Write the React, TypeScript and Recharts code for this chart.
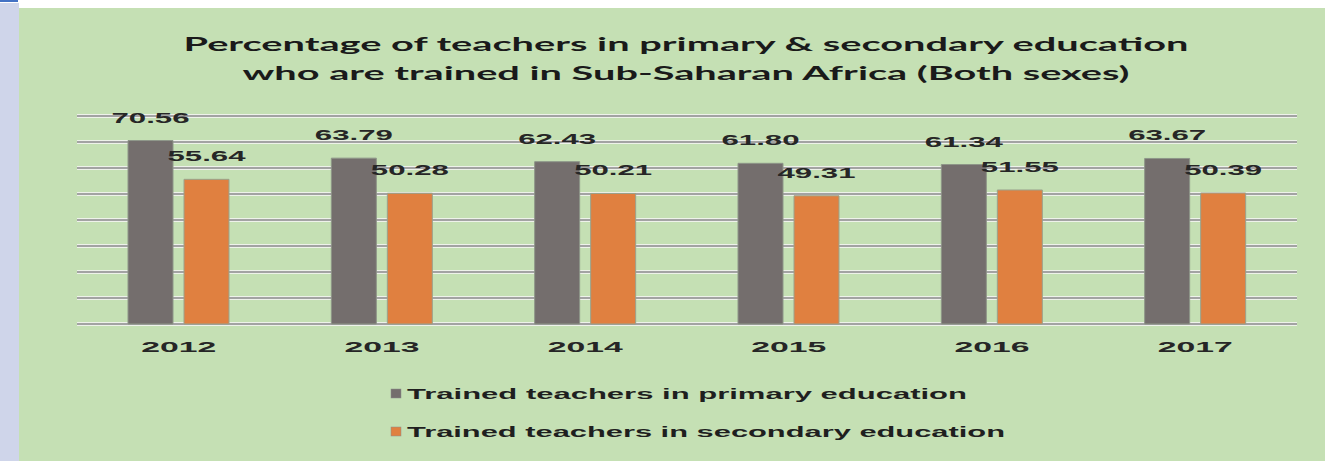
import React from "react";
import { Bar, BarChart, CartesianGrid, LabelList, Legend, XAxis, YAxis } from "recharts";

const years = ["2012", "2013", "2014", "2015", "2016", "2017"];
const primaryValues = [70.56, 63.79, 62.43, 61.8, 61.34, 63.67];
const secondaryValues = [55.64, 50.28, 50.21, 49.31, 51.55, 50.39];
const yTicks = [0, 10, 20, 30, 40, 50, 60, 70, 80];

const primaryName = "Trained teachers in primary education";
const secondaryName = "Trained teachers in secondary education";
const titleLines = [
  "Percentage of teachers in primary & secondary education",
  "who are trained in Sub-Saharan Africa (Both sexes)",
];

const data = years.map((year, i) => ({
  year,
  primary: primaryValues[i],
  secondary: secondaryValues[i],
}));

const FONT = "'Liberation Sans', Arial, sans-serif";

// stretched text, the source image is widened horizontally
function ValueLabel(props: any) {
  const { x, y, width, value } = props;
  return (
    <text
      x={x + width / 2}
      y={y - 18}
      textAnchor="middle"
      fontFamily={FONT}
      fontWeight="bold"
      fontSize={14}
      fill="#262626"
      textLength={78}
      lengthAdjust="spacingAndGlyphs"
    >
      {Number(value).toFixed(2)}
    </text>
  );
}

function YearTick(props: any) {
  const { x, y, payload } = props;
  return (
    <text
      x={x}
      y={y + 20}
      textAnchor="middle"
      fontFamily={FONT}
      fontWeight="bold"
      fontSize={15}
      fill="#262626"
      textLength={75}
      lengthAdjust="spacingAndGlyphs"
    >
      {payload.value}
    </text>
  );
}

const legendWidths = [560, 598];

function renderLegend(props: any) {
  const items = props.payload || [];
  return (
    <svg width={700} height={80}>
      {items.map((item: any, i: number) => (
        <g key={item.value}>
          <rect x={12} y={11 + i * 38} width={10} height={9} fill={item.color} stroke="#8c8c8c" strokeWidth={0.5} />
          <text
            x={28}
            y={21 + i * 38}
            fontFamily={FONT}
            fontWeight="bold"
            fontSize={15}
            fill="#1f1f1f"
            textLength={legendWidths[i]}
            lengthAdjust="spacingAndGlyphs"
          >
            {item.value}
          </text>
        </g>
      ))}
    </svg>
  );
}

export default function App() {
  return (
    <div style={{ position: "absolute", left: 0, top: 0, width: 1325, height: 461, background: "#ffffff", overflow: "hidden" }}>
      <div style={{ position: "absolute", left: 0, top: 0, width: 18, height: 2, background: "#4472c4" }} />
      <div style={{ position: "absolute", left: 0, top: 3, width: 19, height: 458, background: "#cfd5ea" }} />
      <div style={{ position: "absolute", left: 19, top: 8, width: 1306, height: 453, background: "#c5e0b4" }}>
        {/* Title */}
        <svg width={1306} height={90} style={{ position: "absolute", left: 0, top: 0 }}>
          <text x={667} y={43} textAnchor="middle" fontFamily="Lato, 'Open Sans', sans-serif" fontWeight="bold" fontSize={19} fill="#1a1a1a" textLength={1005} lengthAdjust="spacingAndGlyphs">
            {titleLines[0]}
          </text>
          <text x={667} y={72} textAnchor="middle" fontFamily="Lato, 'Open Sans', sans-serif" fontWeight="bold" fontSize={19} fill="#1a1a1a" textLength={887} lengthAdjust="spacingAndGlyphs">
            {titleLines[1]}
          </text>
        </svg>
        <BarChart
          width={1306}
          height={453}
          data={data}
          margin={{ top: 108, right: 28, left: 58, bottom: 107 }}
          barSize={45}
          barGap={11}
        >
          <CartesianGrid vertical={false} stroke="#eef2ea" strokeWidth={4} />
          <CartesianGrid vertical={false} stroke="#a3a3a3" strokeWidth={2} />
          <XAxis dataKey="year" axisLine={false} tickLine={false} height={30} tick={<YearTick />} interval={0} />
          <YAxis hide domain={[0, 80]} ticks={yTicks} />
          <Legend
            verticalAlign="middle"
            layout="horizontal"
            content={renderLegend}
            wrapperStyle={{ left: 360, top: 370, width: 700, height: 80 }}
          />
          <Bar dataKey="primary" name={primaryName} fill="#746e6d" stroke="#8e9689" strokeWidth={1} isAnimationActive={false}>
            <LabelList dataKey="primary" content={<ValueLabel />} />
          </Bar>
          <Bar dataKey="secondary" name={secondaryName} fill="#e08040" stroke="#9aa28c" strokeWidth={1} isAnimationActive={false}>
            <LabelList dataKey="secondary" content={<ValueLabel />} />
          </Bar>
        </BarChart>
      </div>
    </div>
  );
}
